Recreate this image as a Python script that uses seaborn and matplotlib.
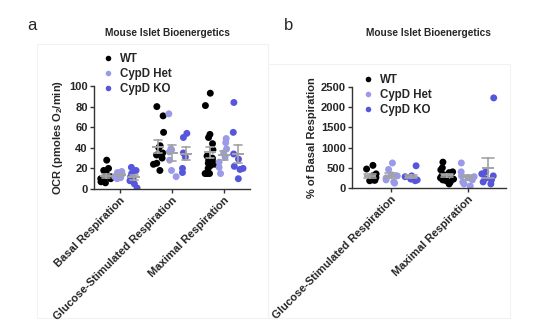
import warnings
warnings.filterwarnings("ignore")
import numpy as np
import pandas as pd
import matplotlib
matplotlib.use("Agg")
import matplotlib.pyplot as plt
from matplotlib.lines import Line2D
import seaborn as sns

# ---------------- data ----------------
genotypes = ["WT", "CypD Het", "CypD KO"]
cats_a = ["Basal Respiration", "Glucose-Stimulated Respiration", "Maximal Respiration"]
cats_b = ["Glucose-Stimulated Respiration", "Maximal Respiration"]

# panel a: OCR (pmoles O2/min)
a_basal_wt = [28, 20, 18, 15, 12, 10, 9, 8, 7, 6, 10, 12]
a_basal_het = [17, 16, 15, 14, 12, 11, 10, 13]
a_basal_ko = [21, 18, 11, 8, 5, 1, 15, 12]
a_gluc_wt = [80, 71, 55, 42, 35, 30, 25, 24, 18, 40, 33]
a_gluc_het = [73, 39, 38, 36, 28, 18, 12]
a_gluc_ko = [54, 50, 35, 31, 20, 16]
a_max_wt = [93, 81, 53, 50, 44, 38, 30, 29, 28, 27, 25, 23, 20, 15, 15, 15, 24, 32]
a_max_het = [49, 45, 39, 35, 31, 26, 21, 15]
a_max_ko = [84, 55, 34, 29, 22, 20, 19, 10]

# panel b: % of basal respiration
b_gluc_wt = [560, 470, 350, 250, 200, 180, 190, 220, 300, 260]
b_gluc_het = [620, 460, 330, 250, 200, 150, 120, 300]
b_gluc_ko = [550, 300, 280, 250, 200, 180, 220, 260]
b_max_wt = [640, 500, 450, 400, 350, 300, 280, 250, 200, 150, 100, 300, 330, 380, 220, 180]
b_max_het = [620, 400, 300, 280, 250, 200, 150, 100, 50]
b_max_ko = [2230, 400, 350, 300, 230, 200, 150, 100]

ticks_a = [0, 20, 40, 60, 80, 100]
ticks_b = [0, 500, 1000, 1500, 2000, 2500]

colors = {"WT": "#000000", "CypD Het": "#9a9ae8", "CypD KO": "#5656dc"}
gray = "#a3a3a3"


def long_df(cats, groups):
    rows = []
    for c, trio in zip(cats, groups):
        for g, vals in zip(genotypes, trio):
            for v in vals:
                rows.append({"cat": c, "geno": g, "val": v})
    return pd.DataFrame(rows)


df_a = long_df(cats_a, [(a_basal_wt, a_basal_het, a_basal_ko),
                        (a_gluc_wt, a_gluc_het, a_gluc_ko),
                        (a_max_wt, a_max_het, a_max_ko)])
df_b = long_df(cats_b, [(b_gluc_wt, b_gluc_het, b_gluc_ko),
                        (b_max_wt, b_max_het, b_max_ko)])

# ---------------- style ----------------
sns.set_style("ticks")
plt.rcParams["font.family"] = ["Liberation Sans", "DejaVu Sans"]
plt.rcParams["font.weight"] = "bold"
plt.rcParams["mathtext.fontset"] = "custom"
plt.rcParams["mathtext.rm"] = "Liberation Sans:bold"
plt.rcParams["mathtext.bf"] = "Liberation Sans:bold"
plt.rcParams["mathtext.default"] = "bf"

W, H = 554, 335
fig = plt.figure(figsize=(W / 100, H / 100), dpi=100)


def fx(px):
    return px / W


def fy(py):
    return 1 - py / H


# faint panel frames
for (x0, y0, x1, y1) in [(37, 44, 268, 318), (268, 64, 510, 318)]:
    fig.add_artist(plt.Rectangle((fx(x0), fy(y1)), fx(x1) - fx(x0), fy(y0) - fy(y1),
                                 transform=fig.transFigure, fill=False,
                                 edgecolor="#f2f2f2", linewidth=0.8, zorder=0))

ax_a = fig.add_axes([fx(94), fy(189), fx(250) - fx(94), fy(86) - fy(189)])
ax_b = fig.add_axes([fx(352), fy(188), fx(506) - fx(352), fy(87) - fy(188)])

np.random.seed(3)


def draw(ax, df, order, jit):
    sns.stripplot(data=df, x="cat", y="val", hue="geno", order=order,
                  hue_order=genotypes, palette=colors, dodge=True, size=5,
                  jitter=jit, linewidth=0, legend=False, ax=ax, zorder=1)
    sns.pointplot(data=df, x="cat", y="val", hue="geno", order=order,
                  hue_order=genotypes, palette={g: gray for g in genotypes},
                  dodge=0.8 * 2 / 3, errorbar="se", capsize=0.15, markers="_",
                  linestyles="none", markersize=9, markeredgewidth=1.4,
                  err_kws={"linewidth": 1.2}, legend=False, ax=ax, zorder=5)


draw(ax_a, df_a, cats_a, 0.33)
draw(ax_b, df_b, cats_b, 0.28)

fs = 8
for ax, ticks, lab in [(ax_a, ticks_a, "OCR (pmoles O$_2$/min)"),
                       (ax_b, ticks_b, "% of Basal Respiration")]:
    ax.set_ylim(ticks[0], ticks[-1])
    ax.set_yticks(ticks)
    ax.set_xlabel("")
    ax.set_ylabel(lab, fontsize=fs, fontweight="bold", labelpad=3)
    sns.despine(ax=ax)
    for s in ["left", "bottom"]:
        ax.spines[s].set_color("#333333")
        ax.spines[s].set_linewidth(1.0)
    ax.tick_params(axis="both", length=3, width=1.0, color="#333333",
                   labelsize=fs, pad=1.5)
    for t in ax.get_yticklabels():
        t.set_fontweight("bold")
    ax.set_xticks(ax.get_xticks())
    ax.set_xticklabels(ax.get_xticklabels(), rotation=45, ha="right",
                       rotation_mode="anchor", fontweight="bold", fontsize=fs)
    ax.patch.set_alpha(0)

ax_a.set_xlim(-0.5, 2.5)
ax_b.set_xlim(-0.5, 1.5)

# titles and panel letters
fig.text(fx(167), fy(33), "Mouse Islet Bioenergetics", ha="center", va="center",
         fontsize=7.3, fontweight="bold")
fig.text(fx(428), fy(33), "Mouse Islet Bioenergetics", ha="center", va="center",
         fontsize=7.3, fontweight="bold")
fig.text(fx(32), fy(26), "a", ha="center", va="center", fontsize=12, fontweight="normal")
fig.text(fx(289), fy(26), "b", ha="center", va="center", fontsize=12, fontweight="normal")

# legends
handles = [Line2D([], [], linestyle="none", marker="o", markersize=4,
                  markerfacecolor=colors[g], markeredgewidth=0) for g in genotypes]
for ax, (px, py) in [(ax_a, (103, 53)), (ax_b, (363, 74))]:
    ax.legend(handles, genotypes, loc="upper left", bbox_to_anchor=(fx(px), fy(py)),
              bbox_transform=fig.transFigure, frameon=False,
              prop={"weight": "bold", "size": 8.3}, handlelength=0.8,
              handletextpad=0.7, labelspacing=0.25, borderpad=0, borderaxespad=0)

fig.savefig("out.png", dpi=100)
